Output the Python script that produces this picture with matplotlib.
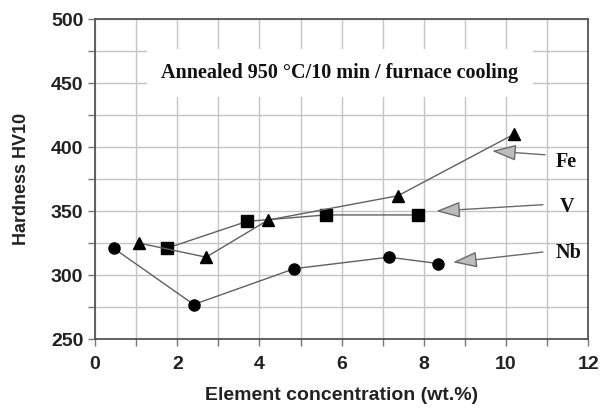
import matplotlib.pyplot as plt

# data
nb_x = [0.45, 2.4, 4.85, 7.15, 8.35]
nb_y = [321, 277, 305, 314, 309]
v_x = [1.75, 3.7, 5.62, 7.86]
v_y = [321, 342, 347, 347]
fe_x = [1.07, 2.7, 4.21, 7.37, 10.19]
fe_y = [325, 314, 343, 362, 410]

fig = plt.figure(figsize=(6.02, 4.08), dpi=100)
ax = fig.add_axes([0.158, 0.169, 0.819, 0.784])

line_kw = dict(color='#606060', lw=1, markerfacecolor='black', markeredgecolor='black')
ax.plot(nb_x, nb_y, marker='o', markersize=8, **line_kw, zorder=3)
ax.plot(v_x, v_y, marker='s', markersize=8, **line_kw, zorder=3)
ax.plot(fe_x, fe_y, marker='^', markersize=9, **line_kw, zorder=3)

ax.set_xlim(0, 12)
ax.set_ylim(250, 500)
ax.set_xticks(range(0, 13, 2))
ax.set_xticks(range(0, 13), minor=True)
ax.set_yticks(range(250, 501, 50))
ax.set_yticks(range(250, 501, 25), minor=True)
ax.grid(True, which='both', color='#c4c4c4', lw=1)
ax.set_axisbelow(True)
for s in ax.spines.values():
    s.set_color('#555555')
    s.set_linewidth(1.3)
ax.tick_params(which='both', direction='out', length=5, color='#777777', width=1)
ax.tick_params(axis='x', pad=7)
for lab in ax.get_xticklabels() + ax.get_yticklabels():
    lab.set_fontweight('bold')
    lab.set_fontsize(14)
    lab.set_fontfamily('Liberation Sans')
    lab.set_color('#222222')

ax.set_xlabel('Element concentration (wt.%)', fontsize=14, fontweight='bold',
              family='Liberation Sans', color='#222222', labelpad=10)
ax.set_ylabel('Hardness HV10', fontsize=13, fontweight='bold',
              family='Liberation Sans', color='#222222', labelpad=15)

ax.text(5.96, 458, 'Annealed 950 °C/10 min / furnace cooling', ha='center', va='center',
        fontsize=14.5, fontweight='bold', family='Liberation Serif', color='#111111',
        bbox=dict(boxstyle='square,pad=0.7', facecolor='white', edgecolor='none'), zorder=4)

# arrows + labels: (name, tip, tail, label pos)
arrows = [('Fe', (9.66, 397), (10.95, 394), (11.22, 388)),
          ('V', (8.3, 350), (10.9, 355), (11.3, 353)),
          ('Nb', (8.71, 310), (10.9, 318), (11.2, 317))]
for name, tip, tail, lab in arrows:
    ax.annotate('', xy=tip, xytext=tail,
                arrowprops=dict(arrowstyle='-|>,head_length=1.5,head_width=0.5',
                                fc='#bdbdbd', ec='#6a6a6a', lw=1, shrinkA=0, shrinkB=0))
    ax.text(lab[0], lab[1], name, ha='left', va='center', fontsize=14.5,
            fontweight='bold', family='Liberation Serif', color='#111111')

fig.savefig('out.png', dpi=100, facecolor='white')
